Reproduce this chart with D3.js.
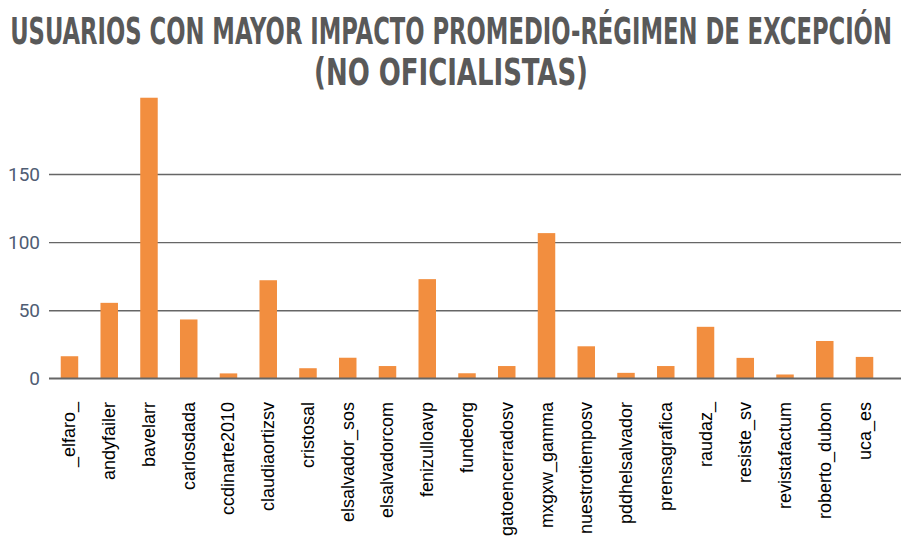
<!DOCTYPE html>
<html>
<head>
<meta charset="utf-8">
<script src="https://cdn.jsdelivr.net/npm/d3@7"></script>
<style>
  body { margin: 0; background: #fff; }
</style>
</head>
<body>
<div id="chart"></div>
<script>
let users = ["_elfaro_", "andyfailer", "bavelarr", "carlosdada", "ccdinarte2010",
    "claudiaortizsv", "cristosal", "elsalvador_sos", "elsalvadorcom", "fenizulloavp",
    "fundeorg", "gatoencerradosv", "mxgxw_gamma", "nuestrotiemposv", "pddhelsalvador",
    "prensagrafica", "raudaz_", "resiste_sv", "revistafactum", "roberto_dubon", "uca_es"];
let impact = [16.2, 55.4, 206, 43.2, 3.6, 72, 7.4, 15.1, 9, 72.8, 3.7, 9, 106.6, 23.5,
    4, 9, 37.8, 15, 2.8, 27.4, 15.7];
let yTicks = [0, 50, 100, 150];
let titleLines = ["USUARIOS CON MAYOR IMPACTO PROMEDIO-RÉGIMEN DE EXCEPCIÓN", "(NO OFICIALISTAS)"];
let titleWidths = [882, 274];

let svg = d3.select("#chart")
    .append("svg")
    .attr("width", 901)
    .attr("height", 540);

let x = d3.scaleBand()
    .domain(users)
    .range([49.6, 884.4])
    .paddingInner(0.56)
    .paddingOuter(0.28);

let y = d3.scaleLinear()
    .domain([0, 150])
    .range([378.3, 174]);

// title, squeezed to the width of the original condensed face
svg.selectAll("text.title")
    .data(titleLines)
    .enter()
    .append("text")
    .attr("class", "title")
    .attr("text-anchor", "middle")
    .attr("font-family", "'DejaVu Sans Condensed', 'DejaVu Sans', sans-serif")
    .attr("font-weight", "bold")
    .attr("font-size", 37)
    .attr("fill", "#595959")
    .text(d => d)
    .attr("transform", function (d, i) {
        let w = this.getComputedTextLength();
        return "translate(451," + (44 + i * 41) + ") scale(" + (titleWidths[i] / w) + ",1)";
    });

// gridlines + y labels
let yAxis = svg.append("g")
    .attr("transform", "translate(49,0)")
    .call(d3.axisLeft(y).tickValues(yTicks).tickSize(-852).tickPadding(9));

yAxis.select(".domain").remove();
yAxis.selectAll(".tick line")
    .attr("stroke", "#666")
    .attr("stroke-width", 1.4);
yAxis.selectAll(".tick text")
    .attr("font-family", "Roboto, sans-serif")
    .attr("font-size", 19)
    .attr("fill", "#4f5d73");

// bars
svg.selectAll("rect.bar")
    .data(impact)
    .enter()
    .append("rect")
    .attr("class", "bar")
    .attr("x", (d, i) => x(users[i]))
    .attr("y", d => y(d))
    .attr("width", x.bandwidth())
    .attr("height", d => y(0) - y(d))
    .attr("fill", "#f28e3f");

// baseline
svg.append("line")
    .attr("x1", 49)
    .attr("x2", 901)
    .attr("y1", y(0))
    .attr("y2", y(0))
    .attr("stroke", "#666")
    .attr("stroke-width", 1.6);

// category labels
svg.selectAll("text.cat")
    .data(users)
    .enter()
    .append("text")
    .attr("class", "cat")
    .attr("transform", d => "translate(" + (x(d) + x.bandwidth() / 2 + 6) + ",402) rotate(-90)")
    .attr("text-anchor", "end")
    .attr("font-family", "'Liberation Sans', Arial, sans-serif")
    .attr("font-size", 18)
    .attr("fill", "#000")
    .text(d => d);
</script>
</body>
</html>
